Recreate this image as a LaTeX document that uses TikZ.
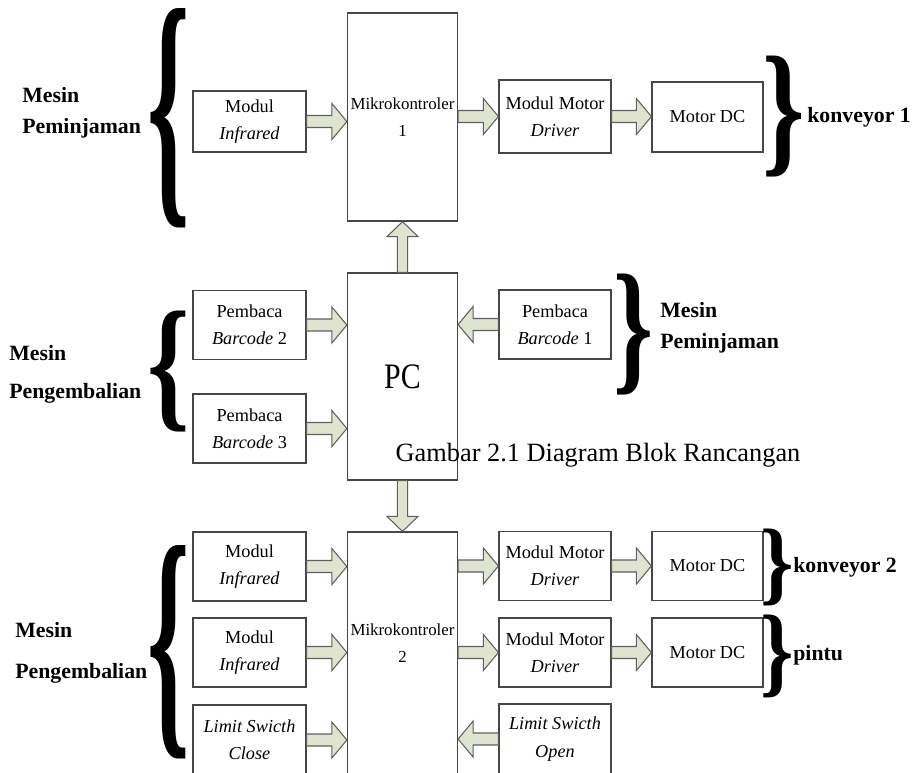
\documentclass[tikz,border=0pt]{standalone}
\usepackage{fontspec}
\setmainfont{Liberation Serif}
\usepackage{graphicx}
\usetikzlibrary{positioning, calc}
\definecolor{bdArrowFill}{RGB}{222,228,208}
\definecolor{bdArrowLine}{RGB}{95,95,95}
\definecolor{bdBoxLine}{RGB}{70,70,70}

\tikzset{
    blok/.style={draw=bdBoxLine, line width=0.7pt, align=center, inner sep=0pt, font=\fontsize{10.4pt}{15.5pt}\selectfont},
    kecil/.style={blok, minimum width=2.26cm, minimum height=1.38cm},
    kontrol/.style={blok, minimum width=2.2cm, font=\fontsize{9.6pt}{15.5pt}\selectfont},
    panah/.style={fill=bdArrowFill, draw=bdArrowLine, line width=0.6pt, line join=miter},
    sisi/.style={font=\bfseries\fontsize{12.4pt}{17.6pt}\selectfont, align=left, inner sep=0pt, anchor=west},
    kurung/.style={inner sep=0pt}
}

\newcommand{\panahblok}[3][1]{%
    \path (#2) coordinate (pa) (#3) coordinate (pb);
    \path ($(pb)!0.30cm!(pa)$) coordinate (pc0);
    \filldraw[panah] ($(pa)!#1*0.12cm!90:(pb)$) -- ($(pc0)!#1*0.12cm!90:(pb)$) -- ($(pc0)!#1*0.36cm!90:(pb)$) -- (pb) -- ($(pc0)!#1*0.36cm!-90:(pb)$) -- ($(pc0)!#1*0.12cm!-90:(pb)$) -- ($(pa)!#1*0.12cm!-90:(pb)$) -- cycle;
}

\begin{document}
\begin{tikzpicture}[x=0.02cm, y=-0.02cm]
    \useasboundingbox (0,0) rectangle (914,772);
    \clip (0,0) rectangle (914,772);

    \node[kontrol, minimum height=4.16cm] (mk1) at (402.5,117) {Mikrokontroler\\1};
    \node[kontrol, minimum height=4.14cm, font=\fontsize{17pt}{20pt}\selectfont] (pc) at (402.5,376.5) {\scalebox{1}[1.2]{PC}};
    \node[kontrol, minimum height=5.12cm, text depth=19.3pt] (mk2) at (402.5,660) {Mikrokontroler\\2};

    \node[kecil, minimum height=1.22cm] (ir1) at (249.5,121.5) {Modul\\\textit{Infrared}};
    \node[kecil, minimum width=2.24cm, minimum height=1.46cm] (mmd1) at (555,116.5) {Modul Motor\\\textit{Driver}};
    \node[kecil, minimum width=2.22cm, minimum height=1.40cm] (mdc1) at (707.5,117) {Motor DC};

    \node[kecil] (pb2) at (249.5,325) {Pembaca\\\textit{Barcode} 2};
    \node[kecil] (pb3) at (249.5,428.5) {Pembaca\\\textit{Barcode} 3};
    \node[kecil, minimum width=2.24cm] (pb1) at (555,324.5) {Pembaca\\\textit{Barcode} 1};

    \node[kecil] (ir2) at (249.5,566.5) {Modul\\\textit{Infrared}};
    \node[kecil] (ir3) at (249.5,652.5) {Modul\\\textit{Infrared}};
    \node[kecil, minimum height=1.40cm] (lsc) at (249.5,740) {\textit{Limit Swicth}\\\textit{Close}};
    \node[kecil, minimum width=2.24cm] (mmd2) at (555,566) {Modul Motor\\\textit{Driver}};
    \node[kecil, minimum width=2.22cm] (mdc2) at (707.5,566) {Motor DC};
    \node[kecil, minimum width=2.24cm] (mmd3) at (555,652.5) {Modul Motor\\\textit{Driver}};
    \node[kecil, minimum width=2.22cm] (mdc3) at (707.5,652.5) {Motor DC};
    \node[kecil, minimum width=2.24cm, minimum height=1.40cm] (lso) at (555,739) {\textit{Limit Swicth}\\\textit{Open}};

    \panahblok{ir1.east}{mk1.west |- ir1.east}
    \panahblok{mk1.east |- mmd1.west}{mmd1.west}
    \panahblok{mmd1.east}{mdc1.west |- mmd1.east}
    \panahblok[0.86]{pc.north}{mk1.south}
    \panahblok{pb2.east}{pc.west |- pb2.east}
    \panahblok{pb3.east}{pc.west |- pb3.east}
    \panahblok{pb1.west}{pc.east |- pb1.west}
    \panahblok[0.86]{pc.south}{mk2.north}
    \panahblok{ir2.east}{mk2.west |- ir2.east}
    \panahblok{ir3.east}{mk2.west |- ir3.east}
    \panahblok{lsc.east}{mk2.west |- lsc.east}
    \panahblok{mk2.east |- mmd2.west}{mmd2.west}
    \panahblok{mmd2.east}{mdc2.west |- mmd2.east}
    \panahblok{mk2.east |- mmd3.west}{mmd3.west}
    \panahblok{mmd3.east}{mdc3.west |- mmd3.east}
    \panahblok{lso.west}{mk2.east |- lso.west}

    \node[kurung] (kL1) at (169,118.5) {\resizebox{0.85cm}{3.68cm}{\bfseries\{}};
    \node[kurung] (kR1) at (784,117) {\resizebox{0.85cm}{2.03cm}{\bfseries\}}};
    \node[kurung] (kL2) at (169,372) {\resizebox{0.85cm}{2.03cm}{\bfseries\{}};
    \node[kurung] (kR2) at (633,335) {\resizebox{0.8cm}{2.03cm}{\bfseries\}}};
    \node[kurung] (kL3) at (169,652.5) {\resizebox{0.85cm}{3.58cm}{\bfseries\{}};
    \node[kurung] (kR3) at (777.5,567) {\resizebox{0.67cm}{1.29cm}{\bfseries\}}};
    \node[kurung] (kR4) at (777.5,656) {\resizebox{0.67cm}{1.39cm}{\bfseries\}}};

    \node[sisi] (lMP1) at (22,112.5) {Mesin\\Peminjaman};
    \node[sisi] (lMB2) at (9,374) {Mesin\\[4pt]Pengembalian};
    \node[sisi] (lMP2) at (660,327.5) {Mesin\\Peminjaman};
    \node[sisi] (lMB3) at (15,652.5) {Mesin\\[5.6pt]Pengembalian};
    \node[sisi] (lK1) at (807,117) {konveyor 1};
    \node[sisi] (lK2) at (793,567) {konveyor 2};
    \node[sisi] (lP) at (793,655) {pintu};
    \node[font=\fontsize{15pt}{18pt}\selectfont, inner sep=0pt] (judul) at (598,455) {Gambar 2.1 Diagram Blok Rancangan};
\end{tikzpicture}
\end{document}
